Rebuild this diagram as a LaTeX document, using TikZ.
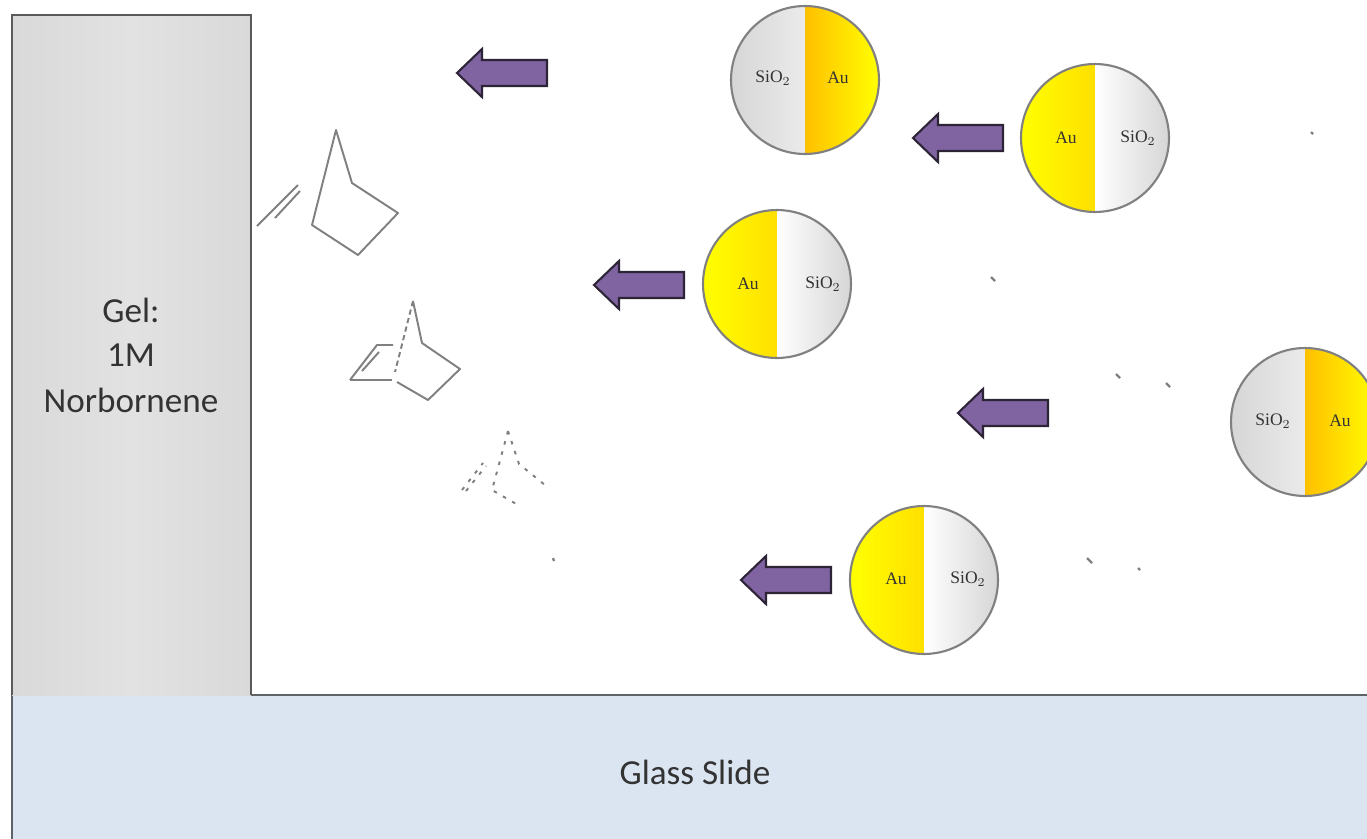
\documentclass[tikz,border=0pt]{standalone}
\usepackage{fontspec}
\setmainfont{Carlito}
\newfontfamily\labelfont{Liberation Serif}
\usetikzlibrary{shadings}
\definecolor{gelfill}{HTML}{D9D9D9}
\definecolor{gelcore}{HTML}{E2E2E2}
\definecolor{gelrim}{HTML}{5A5A5A}
\definecolor{glassfill}{HTML}{DBE5F1}
\definecolor{glassrim}{HTML}{5F6368}
\definecolor{silica}{HTML}{D6D6D6}
\definecolor{goldin}{HTML}{FFC000}
\definecolor{goldout}{HTML}{FFFF00}
\definecolor{arrowfill}{HTML}{8064A2}
\definecolor{arrowrim}{HTML}{2E2438}
\definecolor{bondgray}{HTML}{808080}
\definecolor{inkgray}{HTML}{333333}
\tikzset{
  particle/.style={circle, draw=bondgray, line width=1.2pt, minimum size=2.96cm, inner sep=0pt},
  silicaleft/.style={particle, path picture={
      \fill[left color=silica, right color=white]
        (path picture bounding box.south west) rectangle (path picture bounding box.north);
      \fill[left color=goldin, right color=goldout]
        (path picture bounding box.south) rectangle (path picture bounding box.north east);}},
  goldleft/.style={particle, path picture={
      \fill[left color=goldout, right color=goldin]
        (path picture bounding box.south west) rectangle (path picture bounding box.north);
      \fill[left color=white, right color=silica]
        (path picture bounding box.south) rectangle (path picture bounding box.north east);}},
  halflabel/.style={font=\labelfont\fontsize{10}{12}\selectfont, text=inkgray, inner sep=0pt},
  bond/.style={draw=bondgray, line width=1.1pt, line join=round},
  hiddenbond/.style={bond, dash pattern=on 3pt off 2pt},
  fadedbond/.style={bond, dash pattern=on 2pt off 4pt},
  speck/.style={draw=bondgray, line width=1.3pt},
  pics/pusharrow/.style={code={
      \filldraw[fill=arrowfill, draw=arrowrim, line width=1.2pt, line join=miter]
        (0,0) -- (25,-24) -- (25,-13) -- (90,-13) -- (90,13) -- (25,13) -- (25,24) -- cycle;}},
  biglabel/.style={font=\fontsize{20}{24}\selectfont, text=inkgray, inner sep=0pt}
}
\begin{document}
\begin{tikzpicture}[x=0.02cm, y=-0.02cm]
\useasboundingbox (0,0) rectangle (1367,839);
\fill[white] (0,0) rectangle (1367,839);

% glass slide along the bottom
\fill[glassfill] (12,695) rectangle (1367,839);
\draw[glassrim, line width=1.6pt] (12,839) -- (12,695) -- (1367,695);
\node[biglabel] (glass) at (695,772) {Glass Slide};

% gel block on the left
\shade[left color=gelfill, right color=gelfill, middle color=gelcore] (12,15) rectangle (251,695);
\draw[gelrim, line width=1.6pt] (12,695) -- (12,15) -- (251,15) -- (251,695);
\node[biglabel] (gel1) at (131,310) {Gel:};
\node[biglabel] (gel2) at (131,355) {1M};
\node[biglabel] (gel3) at (131,400) {Norbornene};

% Janus particles: SiO2 half and Au half
\node[silicaleft] (p1) at (805,80) {};
\node[halflabel] at (773,78) {SiO$_2$};
\node[halflabel] at (838,78) {Au};

\node[goldleft] (p2) at (1095,138) {};
\node[halflabel] at (1066,138) {Au};
\node[halflabel] at (1138,138) {SiO$_2$};

\node[goldleft] (p3) at (777,284) {};
\node[halflabel] at (748,284) {Au};
\node[halflabel] at (823,284) {SiO$_2$};

\node[silicaleft] (p4) at (1305,422) {};
\node[halflabel] at (1273,421) {SiO$_2$};
\node[halflabel] at (1340,421) {Au};

\node[goldleft] (p5) at (924,580) {};
\node[halflabel] at (896,579) {Au};
\node[halflabel] at (968,579) {SiO$_2$};

% direction of motion
\pic at (457,73) {pusharrow};
\pic at (913,138) {pusharrow};
\pic at (594,285) {pusharrow};
\pic at (958,413) {pusharrow};
\pic at (741,580) {pusharrow};

% norbornene molecule, drawn in full
\draw[bond] (257,226) -- (298,185);
\draw[bond] (275,218) -- (300,191);
\draw[bond] (336,130) -- (312,225) -- (358,255) -- (398,213) -- (352,183) -- cycle;

% norbornene molecule, with hidden bond
\draw[bond] (350,380) -- (392,380);
\draw[bond] (350,380) -- (377,345) -- (393,345);
\draw[bond] (362,371) -- (379,352);
\draw[hiddenbond] (413,301) -- (395,372);
\draw[bond] (413,301) -- (422,343) -- (460,369) -- (428,400) -- (397,382);

% norbornene molecule, fading out
\draw[fadedbond] (462,490) -- (483,463);
\draw[fadedbond] (466,491) -- (486,466);
\draw[fadedbond] (508,431) -- (492,490) -- (518,505);
\draw[fadedbond] (508,431) -- (519,464) -- (545,485);

% scattered fragments
\draw[speck] (553,558) -- (554,561);
\draw[speck] (1311,132) -- (1313,134);
\draw[speck] (991,277) -- (995,281);
\draw[speck] (1116,374) -- (1120,378);
\draw[speck] (1166,383) -- (1170,387);
\draw[speck] (1087,558) -- (1092,563);
\draw[speck] (1138,568) -- (1140,570);
\end{tikzpicture}
\end{document}
